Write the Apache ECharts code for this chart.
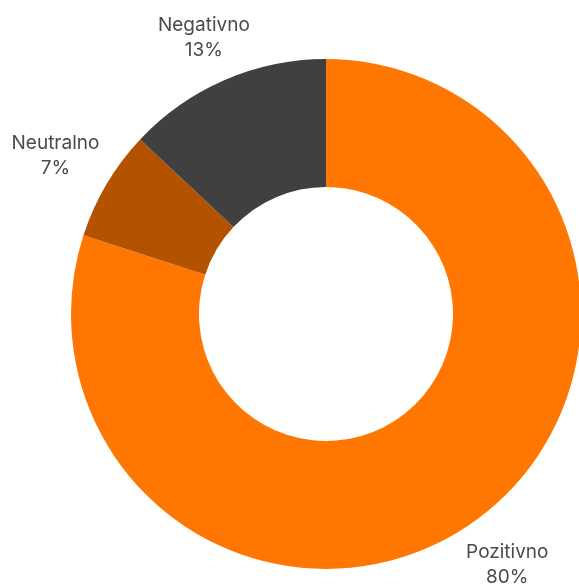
<!DOCTYPE html>
<html>
<head>
<meta charset="utf-8">
<script src="https://cdn.jsdelivr.net/npm/echarts@6/dist/echarts.min.js"></script>
<style>
  html, body { margin: 0; padding: 0; background: #ffffff; }
  #chart { width: 579px; height: 584px; }
</style>
</head>
<body>
<div id="chart"></div>
<script>
// Sentiment shares, drawn clockwise from 12 o'clock
const categories = ['Pozitivno', 'Neutralno', 'Negativno'];
const shares = [80, 7, 13];
const colors = ['#FF7700', '#B35300', '#404040'];
// Small nudges for the outside labels
const labelShiftX = [-3, -3, 4];
const labelShiftY = [4, -3, 4];

const chart = echarts.init(document.getElementById('chart'), null, { renderer: 'canvas' });

chart.setOption({
  backgroundColor: '#ffffff',
  animation: false,
  series: [{
    type: 'pie',
    center: [326, 314],
    radius: [127, 255],
    startAngle: 90,
    clockwise: true,
    avoidLabelOverlap: false,
    itemStyle: { borderWidth: 0 },
    label: {
      show: true,
      position: 'outside',
      formatter: '{b}\n{c}%',
      fontFamily: 'Inter, "Noto Sans", sans-serif',
      fontSize: 19,
      lineHeight: 25,
      color: '#4a4a4a'
    },
    labelLine: { show: false, length: 50, length2: 0 },
    labelLayout: function (params) {
      return {
        align: 'center',
        verticalAlign: 'middle',
        dx: labelShiftX[params.dataIndex],
        dy: labelShiftY[params.dataIndex]
      };
    },
    emphasis: { disabled: true },
    data: categories.map((name, i) => ({
      name: name,
      value: shares[i],
      itemStyle: { color: colors[i] }
    }))
  }]
});
</script>
</body>
</html>
